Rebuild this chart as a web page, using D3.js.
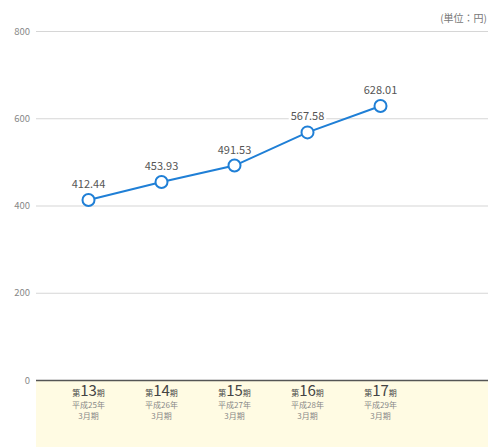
<!DOCTYPE html>
<html>
<head>
<meta charset="utf-8">
<script src="https://cdn.jsdelivr.net/npm/d3@7"></script>
<style>
  body { margin: 0; background: #fff; }
  svg { display: block; font-family: "Noto Sans CJK JP", "Noto Sans", sans-serif; }
</style>
</head>
<body>
<svg id="chart" width="488" height="447"></svg>
<script>
const periods = ['13', '14', '15', '16', '17'];
const eras = ['平成25年', '平成26年', '平成27年', '平成28年', '平成29年'];
const values = [412.44, 453.93, 491.53, 567.58, 628.01];
const yTicks = [0, 200, 400, 600, 800];

const svg = d3.select('#chart');
const W = 488, H = 447;
const mLeft = 36, mTop = 31, mBottom = 380;

const x = d3.scaleBand().domain(periods).range([52, 417]);
const y = d3.scaleLinear().domain([0, 800]).range([mBottom, mTop]);
const cx = d => x(d) + x.bandwidth() / 2;

// category band
svg.append('rect')
  .attr('x', mLeft).attr('y', mBottom)
  .attr('width', W - mLeft).attr('height', H - mBottom)
  .attr('fill', '#fffbe3');

// grid + y labels
const yAxis = d3.axisLeft(y).tickValues(yTicks).tickSize(-(W - mLeft)).tickPadding(6);
const gy = svg.append('g').attr('transform', `translate(${mLeft},0)`).call(yAxis);
gy.select('.domain').remove();
gy.selectAll('.tick line').attr('stroke', d => d === 0 ? '#555' : '#d6d6d6')
  .attr('stroke-width', d => d === 0 ? 1.5 : 1.2);
gy.selectAll('.tick text').attr('fill', '#888').attr('font-size', 9.5)
  .attr('font-family', '"Noto Sans CJK JP", sans-serif');

// unit
svg.append('text').attr('x', 487).attr('y', 22).attr('text-anchor', 'end')
  .attr('font-size', 10).attr('fill', '#777').text('(単位：円)');

// line
const line = d3.line().x((d, i) => cx(periods[i])).y(d => y(d));
svg.append('path').datum(values).attr('d', line)
  .attr('fill', 'none').attr('stroke', '#1f7fd6').attr('stroke-width', 2);

// value labels
const lbl = svg.append('g');
values.forEach((v, i) => {
  const t = lbl.append('text').attr('x', cx(periods[i])).attr('y', y(v) - 12)
    .attr('text-anchor', 'middle').attr('font-size', 11).attr('fill', '#555')
    .text(v.toFixed(2));
  const b = t.node().getBBox();
  lbl.insert('rect', 'text').attr('x', b.x - 2).attr('y', b.y + 1)
    .attr('width', b.width + 4).attr('height', b.height - 2).attr('fill', '#fff');
});

// points
svg.selectAll('circle.pt').data(values).join('circle')
  .attr('cx', (d, i) => cx(periods[i])).attr('cy', d => y(d)).attr('r', 6)
  .attr('fill', '#fff').attr('stroke', '#1f7fd6').attr('stroke-width', 2);

// category labels
const cat = svg.selectAll('g.cat').data(periods).join('g')
  .attr('transform', d => `translate(${cx(d)},0)`);
const t1 = cat.append('text').attr('y', 396).attr('text-anchor', 'middle').attr('fill', '#444');
t1.append('tspan').attr('font-size', 8).text('第');
t1.append('tspan').attr('font-size', 15).text(d => d);
t1.append('tspan').attr('font-size', 8).text('期');
cat.append('text').attr('y', 408).attr('text-anchor', 'middle').attr('font-size', 8)
  .attr('fill', '#888').text((d, i) => eras[i]);
cat.append('text').attr('y', 418.5).attr('text-anchor', 'middle').attr('font-size', 8)
  .attr('fill', '#888').text('3月期');
</script>
</body>
</html>
